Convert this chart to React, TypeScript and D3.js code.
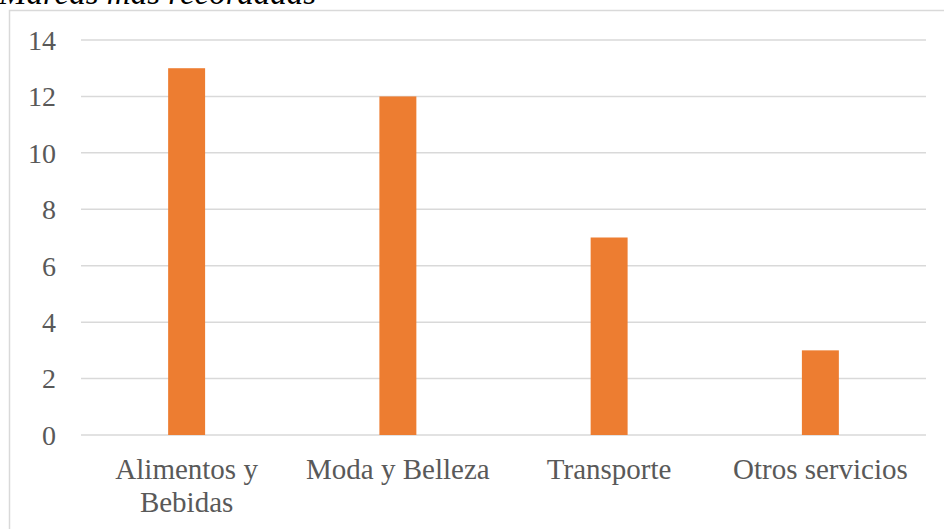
import React from "react";
import * as d3 from "d3";

const categories: string[][] = [
  ["Alimentos y", "Bebidas"],
  ["Moda y Belleza"],
  ["Transporte"],
  ["Otros servicios"],
];
const values: number[] = [13, 12, 7, 3];
const yTicks: number[] = [0, 2, 4, 6, 8, 10, 12, 14];
const title = "Marcas más recordadas";

const W = 944;
const H = 529;
const plot = { left: 81, right: 926, top: 40, bottom: 435 };
const textColor = "#595959";
const gridColor = "#d9d9d9";
const barColor = "#ED7D31";
const font = "'Liberation Serif', 'Times New Roman', Times, serif";

export default function App() {
  const keys = categories.map((c) => c.join(" "));
  const x = d3
    .scaleBand<string>()
    .domain(keys)
    .range([plot.left, plot.right])
    .paddingInner(0.825)
    .paddingOuter(0.4125);
  const y = d3.scaleLinear().domain([0, 14]).range([plot.bottom, plot.top]);

  return (
    <svg
      width={W}
      height={H}
      style={{ position: "absolute", left: 0, top: 0, background: "#fff" }}
    >
      <text
        x={-1}
        y={4}
        fontFamily={font}
        fontStyle="italic"
        fontSize={33}
        fill="#000"
      >
        {title}
      </text>
      <rect
        x={9.5}
        y={10.5}
        width={W + 10}
        height={H + 10}
        fill="none"
        stroke={gridColor}
        strokeWidth={1.5}
      />
      {yTicks.map((t) => (
        <g key={t}>
          <line
            x1={plot.left}
            x2={plot.right}
            y1={y(t)}
            y2={y(t)}
            stroke={gridColor}
            strokeWidth={1.5}
          />
          <text
            x={56}
            y={y(t)}
            dy="0.35em"
            textAnchor="end"
            fontFamily={font}
            fontSize={28}
            fill={textColor}
          >
            {t}
          </text>
        </g>
      ))}
      {values.map((v, i) => (
        <rect
          key={keys[i]}
          x={x(keys[i])}
          y={y(v)}
          width={x.bandwidth()}
          height={y(0) - y(v)}
          fill={barColor}
        />
      ))}
      {categories.map((lines, i) => (
        <text
          key={keys[i]}
          x={(x(keys[i]) as number) + x.bandwidth() / 2}
          y={479}
          textAnchor="middle"
          fontFamily={font}
          fontSize={29}
          fill={textColor}
        >
          {lines.map((l, j) => (
            <tspan key={j} x={(x(keys[i]) as number) + x.bandwidth() / 2} dy={j === 0 ? 0 : 33}>
              {l}
            </tspan>
          ))}
        </text>
      ))}
    </svg>
  );
}
